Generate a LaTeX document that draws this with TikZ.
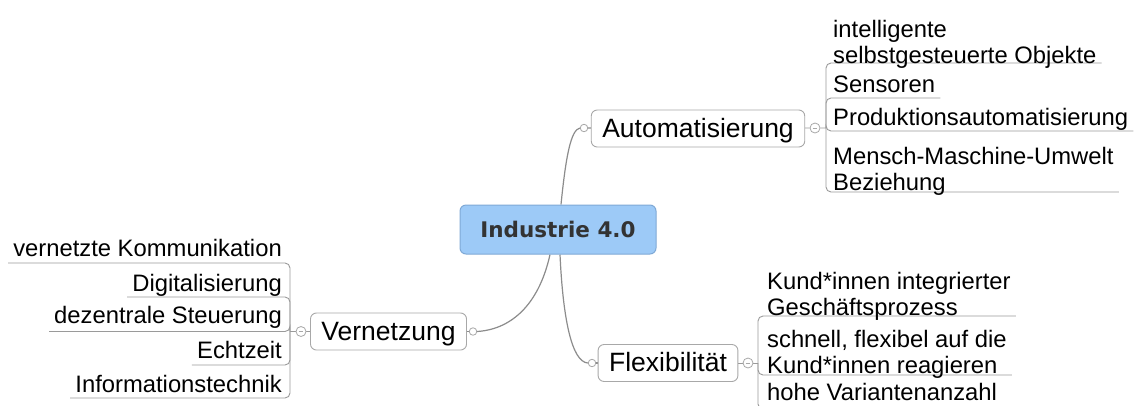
\documentclass[tikz,border=0pt]{standalone}
\usepackage{fontspec}
\setmainfont{Liberation Sans}
\newfontfamily\hubfont{DejaVu Sans}
\pgfdeclarelayer{back}
\pgfsetlayers{back,main}
\definecolor{linegray}{HTML}{8C8C8C}
\definecolor{twiggray}{HTML}{9A9A9A}
\definecolor{boxgray}{HTML}{A8A8A8}
\definecolor{hubfill}{HTML}{9DCAF7}
\definecolor{hubedge}{HTML}{7FA9D6}
\definecolor{hubtext}{HTML}{333333}
\begin{document}
\begin{tikzpicture}[x=1pt,y=-1pt,
  link/.style={draw=linegray, line width=1.2pt},
  twig/.style={draw=twiggray, line width=0.9pt, rounded corners=5pt},
  hub/.style={draw=hubedge, fill=hubfill, rounded corners=6pt, line width=1pt,
    minimum width=196pt, minimum height=49pt, inner sep=0pt,
    font=\hubfont\bfseries\fontsize{21.5}{24}\selectfont, text=hubtext,
    text height=15.7pt, text depth=0pt},
  topic/.style={draw=boxgray, fill=white, rounded corners=6pt, line width=0.9pt,
    minimum height=37pt, inner xsep=11pt, inner ysep=0pt,
    font=\fontsize{26.5}{30}\selectfont, text height=19pt, text depth=2pt},
  leaf/.style={inner xsep=5pt, inner ysep=0pt, align=left,
    font=\fontsize{23.8}{25.5}\selectfont},
  leafr/.style={leaf, align=right},
  knob/.style={circle, draw=boxgray, fill=white, line width=0.8pt,
    minimum size=7.5pt, inner sep=0pt},
  fold/.style={circle, draw=boxgray, fill=white, line width=0.8pt,
    minimum size=10pt, inner sep=0pt,
    path picture={\draw[boxgray, line width=0.8pt]
      ([xshift=2.6pt]path picture bounding box.west) --
      ([xshift=-2.6pt]path picture bounding box.east);}}
]
\useasboundingbox (0,0) rectangle (1139,405);
\clip (0,0) rectangle (1139,405);

% central topic and main branches
\node[hub] (ind) at (558,229.5) {Industrie 4.0};
\node[topic] (aut) at (698,128.5) {Automatisierung};
\node[topic] (vern) at (388.5,331.5) {Vernetzung};
\node[topic] (flex) at (668,363) {Flexibilität};

% attachment points
\node[knob] (autIn) at (584,128) {};
\node[fold] (autOut) at (815,128) {};
\node[knob] (vernIn) at (473,331.5) {};
\node[fold] (vernOut) at (301,331.5) {};
\node[knob] (flexIn) at (592,363) {};
\node[fold] (flexOut) at (748,363) {};

\coordinate (autJ) at (826,128);
\coordinate (vernJ) at (290,331.5);
\coordinate (flexJ) at (758,363);

% subtopics of Automatisierung (two-line boxes sit on the bottom of their last line)
\node[leaf, anchor=base west] (a1) at (828,63) {intelligente\\selbstgesteuerte Objekte};
\node[leaf, anchor=base west] (a2) at (828,92) {Sensoren};
\node[leaf, anchor=base west] (a3) at (828,125) {Produktionsautomatisierung};
\node[leaf, anchor=base west] (a4) at (828,190) {Mensch-Maschine-Umwelt\\Beziehung};

% subtopics of Vernetzung
\node[leafr, anchor=base east] (v1) at (287,256) {vernetzte Kommunikation};
\node[leafr, anchor=base east] (v2) at (287,291) {Digitalisierung};
\node[leafr, anchor=base east] (v3) at (287,323) {dezentrale Steuerung};
\node[leafr, anchor=base east] (v4) at (287,358) {Echtzeit};
\node[leafr, anchor=base east] (v5) at (287,392) {Informationstechnik};

% subtopics of Flexibilität
\node[leaf, anchor=base west] (f1) at (762,315) {Kund*innen integrierter\\Geschäftsprozess};
\node[leaf, anchor=base west] (f2) at (762,373) {schnell, flexibel auf die\\Kund*innen reagieren};
\node[leaf, anchor=base west] (f3) at (762,400) {hohe Variantenanzahl};

\begin{pgfonlayer}{back}
  \clip (0,0) rectangle (1139,405);
  \fill[white] (0,0) rectangle (1139,405);
  % curved main connectors
  \draw[link] ([xshift=3pt]ind.north) .. controls (566,155) and (571,130) .. (autIn.west);
  \draw[link] ([xshift=-8pt]ind.south) .. controls (540,300) and (515,329) .. (vernIn.east);
  \draw[link] ([xshift=2pt]ind.south) .. controls (563,320) and (572,362) .. (flexIn.west);
  \draw[link] (autIn) -- (aut);
  \draw[link] (vernIn) -- (vern);
  \draw[link] (flexIn) -- (flex);
  % fold buttons to brackets
  \draw[twig] (aut) -- (autOut) -- (autJ);
  \draw[twig] (vern) -- (vernOut) -- (vernJ);
  \draw[twig] (flex) -- (flexOut) -- (flexJ);
  % underlines of the subtopics
  \draw[twig] (autJ) |- (a1.east |- 0,63);
  \draw[twig] (autJ) |- (a2.east |- 0,98);
  \draw[twig] (autJ) |- (a3.east |- 0,131);
  \draw[twig] (autJ) |- (a4.east |- 0,192);
  \draw[twig] (vernJ) |- (v1.west |- 0,263);
  \draw[twig] (vernJ) |- (v2.west |- 0,297);
  \draw[twig] (vernJ) |- (v3.west |- 0,331.5);
  \draw[twig] (vernJ) |- (v4.west |- 0,365);
  \draw[twig] (vernJ) |- (v5.west |- 0,398);
  \draw[twig] (flexJ) |- (f1.east |- 0,316);
  \draw[twig] (flexJ) |- (f2.east |- 0,375);
  \draw[twig] (flexJ) |- (f3.east |- 0,409);
\end{pgfonlayer}
\end{tikzpicture}
\end{document}
